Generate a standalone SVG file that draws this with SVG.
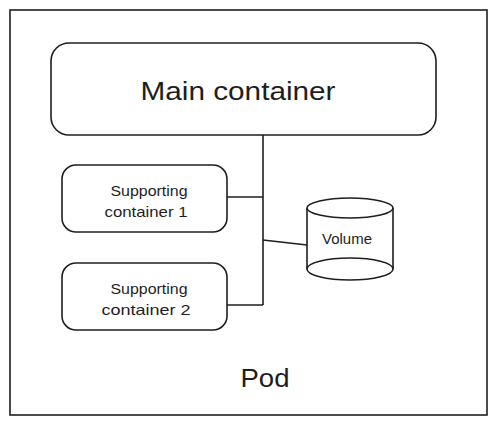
<svg xmlns="http://www.w3.org/2000/svg" width="497" height="425" viewBox="0 0 497 425">
<style>
.box{fill:#ffffff;stroke:#1e1e1e;stroke-width:1.6}
.wire{fill:none;stroke:#1e1e1e;stroke-width:1.6}
.lbl{font-family:"Liberation Sans",Arial,sans-serif;fill:#1e1e1e;text-anchor:middle}
</style>
<rect width="497" height="425" fill="#ffffff"/>
<g id="pod">
<rect class="box" x="10" y="10" width="477" height="405"/>
<text class="lbl" x="265" y="387" font-size="26" textLength="49" lengthAdjust="spacingAndGlyphs">Pod</text>
</g>
<g id="connectors">
<path class="wire" d="M263 135 V305"/>
<path class="wire" d="M227 197 H263"/>
<path class="wire" d="M227 305 H263"/>
<path class="wire" d="M263 240 L307 245"/>
</g>
<g id="main-container">
<rect class="box" x="51" y="43" width="385" height="92" rx="18"/>
<text class="lbl" x="238" y="100" font-size="25" textLength="195" lengthAdjust="spacingAndGlyphs">Main container</text>
</g>
<g id="supporting-container-1">
<rect class="box" x="62" y="165" width="165" height="67" rx="14"/>
<text class="lbl" x="149" y="196" font-size="15" textLength="77" lengthAdjust="spacingAndGlyphs">Supporting</text>
<text class="lbl" x="146" y="217" font-size="15" textLength="83" lengthAdjust="spacingAndGlyphs">container 1</text>
</g>
<g id="supporting-container-2">
<rect class="box" x="62" y="263" width="165" height="67" rx="14"/>
<text class="lbl" x="149" y="294" font-size="15" textLength="77" lengthAdjust="spacingAndGlyphs">Supporting</text>
<text class="lbl" x="146" y="315" font-size="15" textLength="89" lengthAdjust="spacingAndGlyphs">container 2</text>
</g>
<g id="volume">
<path class="box" d="M307 208 V269 A43 11 0 0 0 393 269 V208"/>
<ellipse class="box" cx="350" cy="208" rx="43" ry="10"/>
<path class="wire" d="M307 269 A43 11 0 0 1 393 269"/>
<text class="lbl" x="347" y="244" font-size="14" textLength="50" lengthAdjust="spacingAndGlyphs">Volume</text>
</g>
</svg>
